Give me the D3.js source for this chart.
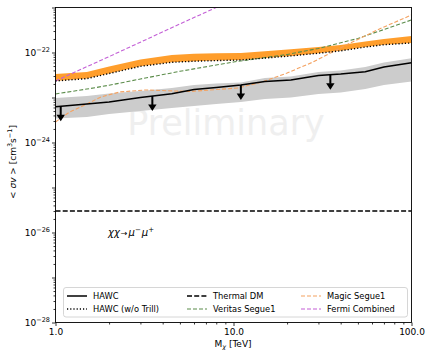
<!DOCTYPE html>
<html>
<head>
<meta charset="utf-8">
<script src="https://cdn.jsdelivr.net/npm/d3@7"></script>
<style>
  html, body { margin: 0; padding: 0; background: #fff; }
  svg { display: block; font-family: "DejaVu Sans", sans-serif; }
</style>
</head>
<body>
<svg id="chart" width="427" height="350"></svg>
<script>
// Dark-matter mass grid (TeV) shared by the HAWC curves
const masses      = [1, 1.5, 2, 3, 4.5, 6, 8, 11, 15, 21, 30, 40, 55, 70, 100];
const hawc        = [6.25e-24, 7.18e-24, 7.94e-24, 1.0e-23, 1.21e-23, 1.51e-23, 1.67e-23, 1.90e-23, 2.27e-23, 2.45e-23, 3.08e-23, 3.33e-23, 3.74e-23, 4.76e-23, 5.93e-23];
const hawcBandHi  = [9.75e-24, 1.08e-23, 1.23e-23, 1.39e-23, 1.63e-23, 1.90e-23, 2.05e-23, 2.15e-23, 2.71e-23, 2.93e-23, 3.69e-23, 3.98e-23, 4.76e-23, 6.0e-23, 7.43e-23];
const hawcBandLo  = [3.41e-24, 3.69e-24, 4.30e-24, 5.01e-24, 5.85e-24, 6.47e-24, 7.18e-24, 7.94e-24, 9.26e-24, 1.0e-23, 1.20e-23, 1.29e-23, 1.55e-23, 1.90e-23, 2.27e-23];
const hawcNoTrill = [2.33e-23, 2.63e-23, 3.41e-23, 4.93e-23, 6.05e-23, 6.41e-23, 6.61e-23, 6.81e-23, 7.51e-23, 8.40e-23, 9.64e-23, 1.09e-22, 1.32e-22, 1.49e-22, 1.63e-22];
const noTrillBandHi = [3.33e-23, 3.69e-23, 4.89e-23, 6.99e-23, 8.80e-23, 9.40e-23, 9.60e-23, 9.75e-23, 1.07e-22, 1.18e-22, 1.33e-22, 1.47e-22, 1.76e-22, 2.0e-22, 2.33e-22];

// Other experiments
const veritasMass = [1, 1.5, 2, 3, 5, 10, 20, 30, 50, 100];
const veritas     = [1.20e-23, 1.54e-23, 1.87e-23, 2.58e-23, 3.82e-23, 6.15e-23, 9.03e-23, 1.23e-22, 2.05e-22, 5.28e-22];
const magicMass   = [1, 1.2, 1.5, 1.8, 2.3, 3.2, 5.7, 10.6, 14.5, 20, 28, 43, 66, 100];
const magic       = [2.86e-24, 4.76e-24, 7.18e-24, 1.03e-23, 1.33e-23, 1.47e-23, 1.36e-23, 1.63e-23, 2.21e-23, 3.50e-23, 6.15e-23, 1.47e-22, 3.33e-22, 6.81e-22];
const fermiMass   = [1, 2, 5, 10];
const fermi       = [2.34e-23, 8.1e-23, 4.3e-22, 1.5e-21];
const thermalMass = [1, 100];
const thermal     = [3e-26, 3e-26];

// Masses where downward arrows mark the HAWC upper limit
const arrowMass = [1.07, 3.5, 11, 35];

// Axis ticks
const xMajor = [1, 10, 100];
const xMajorLabels = ["1.0", "10.0", "100.0"];
const yLabelExp = [-28, -26, -24, -22];

const legendItems = [
  { label: "HAWC",              color: "#000",    dash: null,    width: 1.5 },
  { label: "HAWC (w/o Trill)",  color: "#000",    dash: "1.2,2", width: 1.4 },
  { label: "Thermal DM",        color: "#000",    dash: "5,2.2", width: 1.4 },
  { label: "Veritas Segue1",    color: "#5b8c4a", dash: "4,2",   width: 1.1 },
  { label: "Magic Segue1",      color: "#f4a261", dash: "4,2",   width: 1.1 },
  { label: "Fermi Combined",    color: "#c35fd6", dash: "4,2",   width: 1.1 }
];

const svg = d3.select("#chart");
const L = 55.5, R = 411.5, T = 7.5, B = 322.5;

const x = d3.scaleLog().domain([1, 100]).range([L, R]);
const y = d3.scaleLog().domain([1e-28, 1e-21]).range([B, T]);

svg.append("defs").append("clipPath").attr("id", "plotClip")
  .append("rect").attr("x", L).attr("y", T).attr("width", R - L).attr("height", B - T);

const plot = svg.append("g").attr("clip-path", "url(#plotClip)");

// Watermark
plot.append("text")
  .attr("x", 226).attr("y", 135)
  .attr("text-anchor", "middle")
  .attr("font-size", 35)
  .attr("fill", "#efefef")
  .text("Preliminary");

const pairs = (ms, vs) => ms.map((m, i) => [m, vs[i]]);
const line = d3.line().x(d => x(d[0])).y(d => y(d[1]));
const band = (ms, lo, hi) => d3.area()
  .x((d, i) => x(ms[i])).y0((d, i) => y(lo[i])).y1((d, i) => y(hi[i]))(ms);

// HAWC expected band
plot.append("path").attr("d", band(masses, hawcBandLo, hawcBandHi)).attr("fill", "#cccccc");
// w/o Trill band
plot.append("path").attr("d", band(masses, hawcNoTrill, noTrillBandHi)).attr("fill", "#ff9e2c");

function drawLine(ms, vs, item) {
  plot.append("path")
    .attr("d", line(pairs(ms, vs)))
    .attr("fill", "none")
    .attr("stroke", item.color)
    .attr("stroke-width", item.width)
    .attr("stroke-dasharray", item.dash);
}

drawLine(thermalMass, thermal, legendItems[2]);
drawLine(veritasMass, veritas, legendItems[3]);
drawLine(magicMass, magic, legendItems[4]);
drawLine(fermiMass, fermi, legendItems[5]);
drawLine(masses, hawcNoTrill, legendItems[1]);
drawLine(masses, hawc, legendItems[0]);

// Upper-limit arrows hanging from the HAWC curve
const hawcPx = d3.scaleLog().domain(masses).range(hawc.map(v => y(v)));
arrowMass.forEach(m => {
  const ax = x(m), ay = hawcPx(m);
  const len = 15, head = 6.5, hw = 4.2;
  plot.append("line")
    .attr("x1", ax).attr("x2", ax).attr("y1", ay).attr("y2", ay + len - head + 0.5)
    .attr("stroke", "#000").attr("stroke-width", 2);
  plot.append("path")
    .attr("d", `M${ax - hw},${ay + len - head} L${ax + hw},${ay + len - head} L${ax},${ay + len} Z`)
    .attr("fill", "#000");
});

// Reaction label
const react = svg.append("text").attr("x", 108).attr("y", 235.5)
  .attr("font-size", 10).attr("fill", "#000");
react.append("tspan").attr("font-style", "italic").text("χχ");
react.append("tspan").attr("font-size", 8).attr("dx", 1).text("→");
react.append("tspan").attr("font-style", "italic").attr("dx", 1).text("μ");
react.append("tspan").attr("font-size", 7).attr("dy", -4).text("−");
react.append("tspan").attr("font-style", "italic").attr("dy", 4).attr("dx", 1).text("μ");
react.append("tspan").attr("font-size", 7).attr("dy", -4).text("+");

// Axes
const minorX = [];
[1, 10].forEach(d => { for (let k = 2; k <= 9; k++) minorX.push(d * k); });
const minorY = [];
for (let e = -28; e < -21; e++) for (let k = 2; k <= 9; k++) minorY.push(k * Math.pow(10, e));
const majorY = d3.range(-28, -20).map(e => Math.pow(10, e));

const gx = svg.append("g").attr("transform", `translate(0,${B})`);
gx.call(d3.axisBottom(x).tickValues(xMajor).tickSize(3.5).tickFormat((d, i) => xMajorLabels[i]));
const gxm = svg.append("g").attr("transform", `translate(0,${B})`);
gxm.call(d3.axisBottom(x).tickValues(minorX).tickSize(2).tickFormat(""));

const gy = svg.append("g").attr("transform", `translate(${L},0)`);
gy.call(d3.axisLeft(y).tickValues(majorY).tickSize(3.5).tickFormat(""));
const gym = svg.append("g").attr("transform", `translate(${L},0)`);
gym.call(d3.axisLeft(y).tickValues(minorY).tickSize(2).tickFormat(""));

[gx, gxm, gy, gym].forEach(g => {
  g.select(".domain").remove();
  g.selectAll(".tick line").attr("stroke", "#000").attr("stroke-width", 0.8);
  g.selectAll("text").attr("font-size", 9).attr("font-family", "DejaVu Sans").attr("fill", "#000");
});

// y tick labels as powers of ten
yLabelExp.forEach(e => {
  const t = svg.append("text")
    .attr("x", 50).attr("y", y(Math.pow(10, e)) + 3.5)
    .attr("text-anchor", "end").attr("font-size", 9).attr("fill", "#000");
  t.append("tspan").text("10");
  t.append("tspan").attr("font-size", 6.5).attr("dy", -4).text("−" + Math.abs(e));
});

// Frame
svg.append("rect").attr("x", L).attr("y", T).attr("width", R - L).attr("height", B - T)
  .attr("fill", "none").attr("stroke", "#000").attr("stroke-width", 0.9);

// Axis titles
const xt = svg.append("text").attr("x", 233).attr("y", 346.5)
  .attr("text-anchor", "middle").attr("font-size", 9).attr("fill", "#000");
xt.append("tspan").text("M");
xt.append("tspan").attr("font-size", 6.5).attr("dy", 2).attr("font-style", "italic").text("χ");
xt.append("tspan").attr("dy", -2).text(" [TeV]");

const yt = svg.append("text")
  .attr("transform", "translate(16,162) rotate(-90)")
  .attr("text-anchor", "middle").attr("font-size", 9).attr("fill", "#000");
yt.append("tspan").text("< ");
yt.append("tspan").attr("font-style", "italic").text("σv");
yt.append("tspan").text(" >  [cm");
yt.append("tspan").attr("font-size", 6.5).attr("dy", -4).text("3");
yt.append("tspan").attr("dy", 4).text("s");
yt.append("tspan").attr("font-size", 6.5).attr("dy", -4).text("−1");
yt.append("tspan").attr("dy", 4).text("]");

// Legend
const lg = svg.append("g");
lg.append("rect").attr("x", 63.5).attr("y", 287.5).attr("width", 344).attr("height", 29.5)
  .attr("rx", 2.5).attr("fill", "#fff").attr("fill-opacity", 0.8)
  .attr("stroke", "#cccccc").attr("stroke-width", 0.8);
const colX = [67, 187, 301];
const rowY = [296, 309];
legendItems.forEach((it, i) => {
  const cx = colX[Math.floor(i / 2)], cy = rowY[i % 2];
  lg.append("line").attr("x1", cx).attr("x2", cx + 20).attr("y1", cy).attr("y2", cy)
    .attr("stroke", it.color).attr("stroke-width", it.width).attr("stroke-dasharray", it.dash);
  lg.append("text").attr("x", cx + 26).attr("y", cy + 3).attr("font-size", 8.3)
    .attr("fill", "#000").text(it.label);
});
</script>
</body>
</html>
